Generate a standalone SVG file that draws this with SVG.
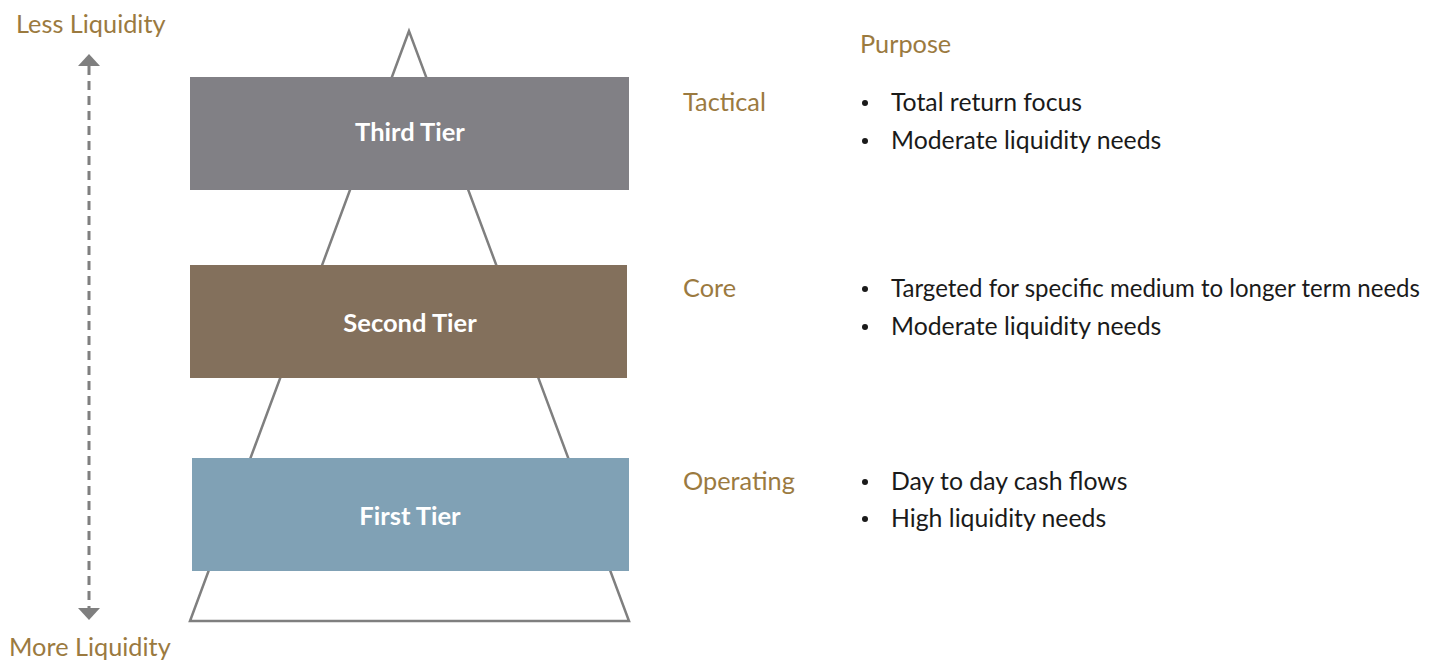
<svg xmlns="http://www.w3.org/2000/svg" width="1439" height="660" viewBox="0 0 1439 660">
  <style>
    .gold { font-family: Lato, "Open Sans", "Liberation Sans", sans-serif; font-size: 25.3px; fill: #9b7a3f; }
    .body { font-family: Lato, "Open Sans", "Liberation Sans", sans-serif; font-size: 24.8px; fill: #1a1a1a; }
    .tier { font-family: Lato, "Open Sans", "Liberation Sans", sans-serif; font-size: 25.5px; font-weight: bold; fill: #ffffff; text-anchor: middle; }
    .outline { fill: none; stroke: #7f7f7f; stroke-width: 2.5; stroke-linejoin: miter; }
    .dot { fill: #1a1a1a; }
    .head { fill: #7f7f7f; }
  </style>

  <!-- pyramid outline behind the tiers -->
  <g id="pyramid">
    <polygon class="outline" points="409,31 190,621 629,621"/>
  </g>

  <g id="third-tier">
    <rect x="190" y="77" width="439" height="113" fill="#818085"/>
    <text class="tier" x="410" y="141">Third Tier</text>
  </g>
  <g id="second-tier">
    <rect x="190" y="265" width="437" height="113" fill="#83705c"/>
    <text class="tier" x="410" y="332">Second Tier</text>
  </g>
  <g id="first-tier">
    <rect x="192" y="458" width="437" height="113" fill="#80a1b5"/>
    <text class="tier" x="410" y="525">First Tier</text>
  </g>

  <!-- liquidity scale: dashed shaft with a head at each end -->
  <g id="connectors">
    <line x1="89" y1="66" x2="89" y2="608" stroke="#7f7f7f" stroke-width="3" stroke-dasharray="9,6"/>
    <polygon class="head" points="89,54 100,66 78,66"/>
    <polygon class="head" points="89,620 100,608 78,608"/>
  </g>
  <g id="scale-labels">
    <text class="gold" x="16" y="33">Less Liquidity</text>
    <text class="gold" x="9" y="656">More Liquidity</text>
  </g>

  <g id="purpose">
    <text class="gold" x="860" y="53">Purpose</text>
  </g>

  <g id="tactical">
    <text class="gold" x="683" y="111">Tactical</text>
    <circle class="dot" cx="865" cy="103" r="3"/>
    <text class="body" x="891" y="111">Total return focus</text>
    <circle class="dot" cx="865" cy="141" r="3"/>
    <text class="body" x="891" y="149">Moderate liquidity needs</text>
  </g>

  <g id="core">
    <text class="gold" x="683" y="297">Core</text>
    <circle class="dot" cx="865" cy="289" r="3"/>
    <text class="body" x="891" y="297" textLength="529" lengthAdjust="spacingAndGlyphs">Targeted for specific medium to longer term needs</text>
    <circle class="dot" cx="865" cy="327" r="3"/>
    <text class="body" x="891" y="335">Moderate liquidity needs</text>
  </g>

  <g id="operating">
    <text class="gold" x="683" y="490">Operating</text>
    <circle class="dot" cx="865" cy="482" r="3"/>
    <text class="body" x="891" y="490">Day to day cash flows</text>
    <circle class="dot" cx="865" cy="519" r="3"/>
    <text class="body" x="891" y="527">High liquidity needs</text>
  </g>
</svg>
